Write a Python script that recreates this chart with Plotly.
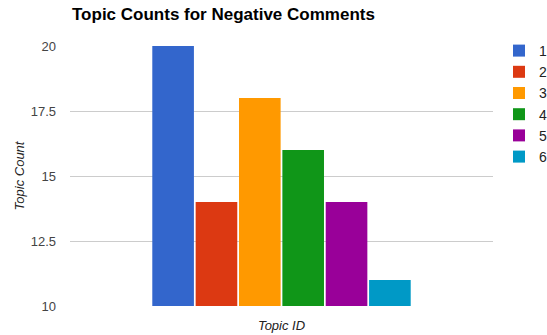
import plotly.graph_objects as go

topics = ["1", "2", "3", "4", "5", "6"]
counts = [20, 14, 18, 16, 14, 11]
colors = ["#3366cc", "#dc3912", "#ff9900", "#109618", "#990099", "#0099c6"]
category = ["Negative"]
y_ticks = [10, 12.5, 15, 17.5, 20]

fig = go.Figure()
for t, c, col in zip(topics, counts, colors):
    fig.add_trace(go.Bar(x=category, y=[c], name=t, marker=dict(color=col, line=dict(width=0))))

fig.update_layout(
    width=547, height=335,
    margin=dict(l=70, r=54, t=46, b=29),
    paper_bgcolor="white", plot_bgcolor="white",
    barmode="group", bargap=0.385, bargroupgap=0.04,
    font=dict(family="Liberation Sans, Arial, sans-serif", size=13, color="#444"),
    title=dict(text="<b>Topic Counts for Negative Comments</b>", x=72/547, xanchor="left",
               y=1 - 14/335, yanchor="middle",
               font=dict(size=17, color="#000")),
    showlegend=True,
    legend=dict(xref="container", yref="container", x=499/547, xanchor="left",
                y=1 - 35/335, yanchor="top",
                font=dict(size=14, color="#222"), bgcolor="rgba(0,0,0,0)",
                tracegroupgap=0),
    xaxis=dict(showticklabels=False, showgrid=False, zeroline=False, showline=False,
               automargin=False,
               title=dict(text="<i>Topic ID</i>", standoff=14, font=dict(size=13, color="#222"))),
    yaxis=dict(range=[10, 20], tickvals=y_ticks, ticktext=["10", "12.5", "15", "17.5", "20"],
               showgrid=True, gridcolor="#cccccc", zeroline=False, showline=False,
               ticks="", ticklabelstandoff=13, automargin=False,
               title=dict(text="<i>Topic Count</i>", standoff=3, font=dict(size=13, color="#222"))),
)

fig.write_html("out.html")
